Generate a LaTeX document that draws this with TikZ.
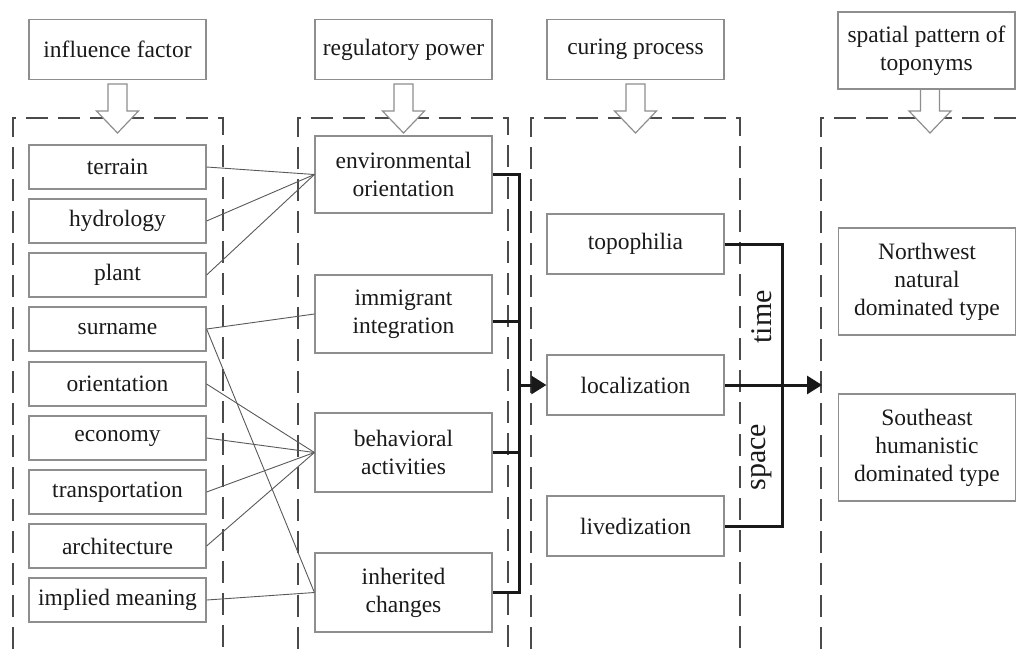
\documentclass[tikz,border=0pt]{standalone}
\usepackage{fontspec}
\setmainfont{Liberation Serif}
\usetikzlibrary{arrows.meta,calc}
\definecolor{boxgray}{HTML}{8E8E8E}
\definecolor{dashgray}{HTML}{4A4A4A}
\definecolor{txt}{HTML}{1A1A1A}
\begin{document}
\begin{tikzpicture}[x=1pt,y=-1pt,
  box/.style={draw=boxgray, line width=1.2pt, fill=white, text=txt, align=center,
    font=\fontsize{23.5}{28}\selectfont, inner sep=0pt, minimum width=177pt},
  region/.style={draw=dashgray, line width=1.4pt, dash pattern=on 22pt off 10pt},
  link/.style={draw=black!65, line width=0.9pt},
  bold/.style={draw=black!90, line width=3pt, line join=miter},
  hollow/.style={draw=boxgray, line width=1.2pt, fill=white, line join=miter},
  harrow/.pic={\path[hollow] (-9.5,0) -- (-9.5,27) -- (-21,27) -- (0,49) -- (21,27) -- (9.5,27) -- (9.5,0) -- cycle;},
  tip/.style={-{Triangle[length=15pt,width=18pt]}}
]
\useasboundingbox (0,0) rectangle (1019,649);

% dashed regions
\draw[region] (13,649) -- (13,118) -- (223,118) -- (223,649);
\draw[region] (298,649) -- (298,118) -- (508,118) -- (508,649);
\draw[region] (531,649) -- (531,118) -- (740,118) -- (740,649);
\draw[region] (821,649) -- (821,118) -- (1019,118);

% hollow arrows
\pic at (117.5,84) {harrow};
\pic at (403.5,84) {harrow};
\pic at (635.5,84) {harrow};
\pic at (930,84) {harrow};

% headers
\node[box, minimum height=60pt] (h1) at (117.5,49.5) {influence factor};
\node[box, minimum height=60pt] (h2) at (403.5,49.5) {regulatory power};
\node[box, minimum height=60pt] (h3) at (635.5,49.5) {curing process};
\node[box, minimum height=77pt] (h4) at (926.5,50.5) {spatial pattern of\\toponyms};

% column 1
\node[box, minimum height=44pt] (terrain) at (117.5,167) {terrain};
\node[box, minimum height=44pt] (hydro) at (117.5,221) {hydrology};
\node[box, minimum height=44pt] (plant) at (117.5,275) {plant};
\node[box, minimum height=44pt] (surname) at (117.5,329) {surname};
\node[box, minimum height=44pt] (orient) at (117.5,384) {orientation};
\node[box, minimum height=44pt] (econ) at (117.5,438) {economy};
\node[box, minimum height=44pt] (trans) at (117.5,492) {transportation};
\node[box, minimum height=44pt] (arch) at (117.5,546) {architecture};
\node[box, minimum height=44pt] (implied) at (117.5,600) {implied meaning};

% column 2
\node[box, minimum height=77pt] (env) at (403.5,174.5) {environmental\\orientation};
\node[box, minimum height=78pt] (imm) at (403.5,314) {immigrant\\integration};
\node[box, minimum height=79pt] (beh) at (403.5,452.5) {behavioral\\activities};
\node[box, minimum height=79pt] (inh) at (403.5,592.5) {inherited\\changes};

% column 3
\node[box, minimum height=60pt] (topo) at (635.5,244) {topophilia};
\node[box, minimum height=60pt] (loc) at (635.5,385) {localization};
\node[box, minimum height=60pt] (live) at (635.5,526) {livedization};

% column 4
\node[box, minimum height=107pt] (nw) at (927,281.5) {Northwest\\natural\\dominated type};
\node[box, minimum height=107pt] (se) at (927,447.5) {Southeast\\humanistic\\dominated type};

% thin links
\draw[link] (terrain.east) -- (env.west);
\draw[link] (hydro.east) -- (env.west);
\draw[link] (plant.east) -- (env.west);
\draw[link] (surname.east) -- (imm.west);
\draw[link] (surname.east) -- (inh.west);
\draw[link] (orient.east) -- (beh.west);
\draw[link] (econ.east) -- (beh.west);
\draw[link] (trans.east) -- (beh.west);
\draw[link] (arch.east) -- (beh.west);
\draw[link] (implied.east) -- (inh.west);

% left bracket
\coordinate (bx) at (519,385);
\draw[bold] (env.east) -| (bx |- inh.east) -- (inh.east);
\draw[bold] ([yshift=-7pt]imm.east) -- ($(bx |- imm.east)+(0,7)$);
\draw[bold] (beh.east) -- (bx |- beh.east);
\draw[bold, tip] (bx) -- (loc.west);

% right bracket
\coordinate (rx) at (782,385);
\coordinate (rend) at (822,385);
\draw[bold] (topo.east) -| (rx |- live.east) -- (live.east);
\draw[bold, tip] (loc.east) -- (rend);

\node[rotate=90, text=txt, font=\fontsize{30}{30}\selectfont] (time) at (762,317) {time};
\node[rotate=90, text=txt, font=\fontsize{30}{30}\selectfont] (space) at (762,457) {space};
\end{tikzpicture}
\end{document}
